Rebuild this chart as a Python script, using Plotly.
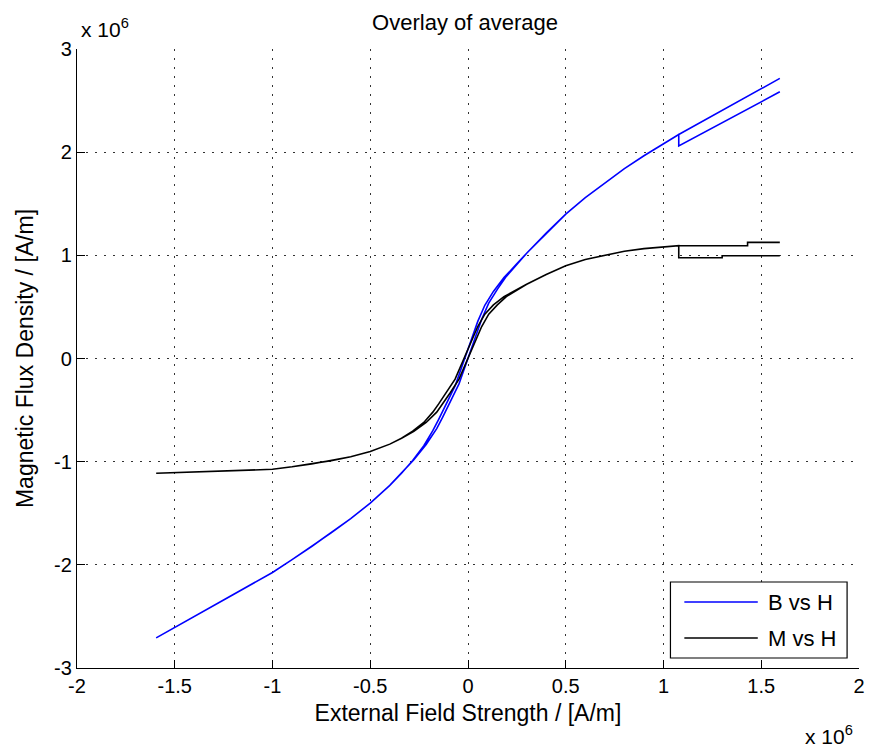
import plotly.graph_objects as go

# Field strength H and magnetisation M, both in units of 1e6 A/m.
# Descending branch (from +H saturation down to -H saturation).
H_M_desc = [1.595, 1.30, 1.30, 1.078, 1.078, 1.00, 0.90, 0.80, 0.70, 0.60, 0.500,
            0.400, 0.300, 0.247, 0.184, 0.130, 0.086, 0.050, 0.019, -0.024, -0.066,
            -0.110, -0.150, -0.180, -0.226, -0.283, -0.340, -0.400, -0.50, -0.60,
            -0.70, -0.80, -0.90, -1.00, -1.20, -1.40, -1.50, -1.595]
M_desc = [0.996, 0.996, 0.977, 0.977, 1.093, 1.082, 1.065, 1.040, 1.000, 0.960, 0.900,
          0.815, 0.720, 0.665, 0.600, 0.520, 0.430, 0.310, 0.180, -0.015, -0.200,
          -0.330, -0.440, -0.520, -0.620, -0.705, -0.773, -0.830, -0.902, -0.952,
          -0.990, -1.022, -1.050, -1.074, -1.088, -1.100, -1.107, -1.113]

# Ascending branch (from -H saturation back up to +H saturation).
H_M_asc = [-1.595, -1.50, -1.40, -1.20, -1.00, -0.90, -0.80, -0.70, -0.60, -0.50,
           -0.400, -0.340, -0.277, -0.214, -0.160, -0.130, -0.090, -0.046, -0.004,
           0.039, 0.070, 0.106, 0.150, 0.196, 0.253, 0.300, 0.400, 0.500, 0.60, 0.70,
           0.80, 0.90, 1.00, 1.078, 1.43, 1.43, 1.595]
M_asc = [-1.113, -1.107, -1.100, -1.088, -1.074, -1.050, -1.022, -0.990, -0.952, -0.902,
         -0.830, -0.773, -0.705, -0.620, -0.520, -0.440, -0.330, -0.200, -0.015,
         0.180, 0.310, 0.430, 0.520, 0.600, 0.665, 0.720, 0.815, 0.900, 0.960, 1.000,
         1.040, 1.065, 1.082, 1.093, 1.093, 1.126, 1.126]

# Flux density B (as B/mu0, 1e6 A/m) on the same two branches.
H_B_desc = [1.595, 1.078, 1.078, 1.00, 0.90, 0.80, 0.70, 0.60, 0.500, 0.400, 0.300,
            0.247, 0.184, 0.130, 0.086, 0.050, 0.019, -0.024, -0.066, -0.110, -0.150,
            -0.180, -0.226, -0.283, -0.340, -0.400, -0.50, -0.60, -0.70, -0.80, -0.90,
            -1.00, -1.20, -1.40, -1.595]
B_desc = [2.585, 2.060, 2.171, 2.082, 1.965, 1.840, 1.700, 1.560, 1.400, 1.215, 1.020,
          0.912, 0.784, 0.650, 0.516, 0.360, 0.199, -0.039, -0.266, -0.440, -0.590,
          -0.700, -0.846, -0.988, -1.113, -1.230, -1.402, -1.552, -1.690, -1.822, -1.950,
          -2.074, -2.288, -2.500, -2.708]

H_B_asc = [-1.595, -1.40, -1.20, -1.00, -0.90, -0.80, -0.70, -0.60, -0.50, -0.400,
           -0.340, -0.277, -0.214, -0.160, -0.130, -0.090, -0.046, -0.004, 0.039, 0.070,
           0.106, 0.150, 0.196, 0.253, 0.300, 0.400, 0.500, 0.60, 0.70, 0.80, 0.90,
           1.00, 1.078, 1.595]
B_asc = [-2.708, -2.500, -2.288, -2.074, -1.950, -1.822, -1.690, -1.552, -1.402, -1.230,
         -1.113, -0.982, -0.834, -0.680, -0.570, -0.420, -0.246, -0.019, 0.219, 0.380,
         0.536, 0.670, 0.796, 0.918, 1.020, 1.215, 1.400, 1.560, 1.700, 1.840, 1.965,
         2.082, 2.171, 2.715]

x_ticks = [-2, -1.5, -1, -0.5, 0, 0.5, 1, 1.5, 2]
y_ticks = [-3, -2, -1, 0, 1, 2, 3]

series_names = ["B vs H", "M vs H"]
series_colors = ["#0000ff", "#000000"]

FONT = "Liberation Sans, Arial, sans-serif"

fig = go.Figure()
fig.add_trace(go.Scatter(x=H_B_desc + H_B_asc, y=B_desc + B_asc, mode="lines",
                         name=series_names[0],
                         line=dict(color=series_colors[0], width=1.6),
                         showlegend=False))
fig.add_trace(go.Scatter(x=H_M_desc + H_M_asc, y=M_desc + M_asc, mode="lines",
                         name=series_names[1],
                         line=dict(color=series_colors[1], width=1.6),
                         showlegend=False))

# plot-area geometry in pixels (used to place the boxed legend)
L, R, T, B = 77, 865, 49, 668
W, Hh = 873, 747
def px(xp):
    return (xp - L) / (R - L)
def py(yp):
    return (B - yp) / (B - T)

axis_common = dict(
    showline=True, linecolor="black", linewidth=1.2, mirror=False,
    ticks="inside", ticklen=8, tickwidth=1.2, tickcolor="black",
    showgrid=True, gridcolor="#333333", gridwidth=1, griddash="2px,7px",
    zeroline=False,
    tickfont=dict(family=FONT, size=20, color="black"),
    title_font=dict(family=FONT, size=23, color="black"),
)

fig.update_layout(
    width=W, height=Hh,
    margin=dict(l=L, r=W - R, t=T, b=Hh - B),
    paper_bgcolor="white", plot_bgcolor="white",
    font=dict(family=FONT, color="black"),
    showlegend=False,
    title=dict(text="Overlay of average", x=px(468), xref="paper", xanchor="center",
               y=1 - 22 / Hh, yref="container", yanchor="middle",
               font=dict(family=FONT, size=22, color="black")),
    xaxis=dict(range=[-2, 2], tickvals=x_ticks,
               ticktext=[f"{v:g}" for v in x_ticks],
               title=dict(text="External Field Strength / [A/m]", standoff=8),
               **axis_common),
    yaxis=dict(range=[-3, 3], tickvals=y_ticks,
               ticktext=[f"{v:g}" for v in y_ticks],
               title=dict(text="Magnetic Flux Density / [A/m]", standoff=14),
               **axis_common),
)

# exponent labels for both axes
fig.add_annotation(text="x 10<sup>6</sup>", xref="paper", yref="paper",
                   x=px(79), y=py(28), xanchor="left", yanchor="middle",
                   showarrow=False, font=dict(family=FONT, size=21, color="black"))
fig.add_annotation(text="x 10<sup>6</sup>", xref="paper", yref="paper",
                   x=px(861), y=py(735), xanchor="right", yanchor="middle",
                   showarrow=False, font=dict(family=FONT, size=21, color="black"))

# boxed legend in the lower-right corner
fig.add_shape(type="rect", xref="paper", yref="paper",
              x0=px(675), x1=px(853), y0=py(658), y1=py(582),
              line=dict(color="black", width=1.2), fillcolor="white", layer="above")
for i, (name, color) in enumerate(zip(series_names, series_colors)):
    yy = py(602 + 36 * i)
    fig.add_shape(type="line", xref="paper", yref="paper",
                  x0=px(689), x1=px(763), y0=yy, y1=yy,
                  line=dict(color=color, width=1.6), layer="above")
    fig.add_annotation(text=name, xref="paper", yref="paper",
                       x=px(771), y=yy, xanchor="left", yanchor="middle",
                       showarrow=False, font=dict(family=FONT, size=22, color="black"))

fig.write_html("out.html")
